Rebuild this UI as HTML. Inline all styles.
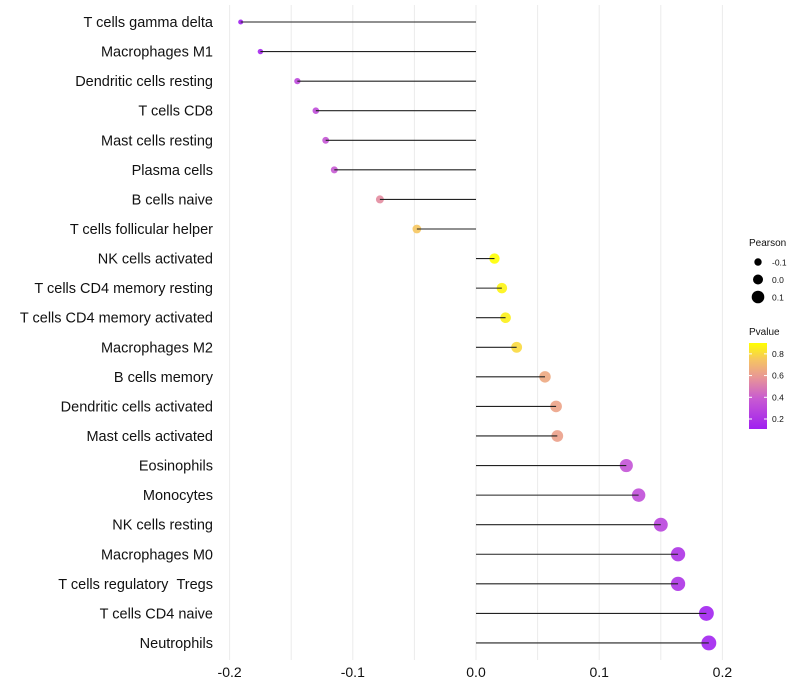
<!DOCTYPE html>
<html><head><meta charset="utf-8"><style>
body{margin:0;background:#fff;}
svg{display:block;font-family:"Liberation Sans",Arial,sans-serif;}
</style></head><body>
<svg id="chart" width="800" height="700">
<g id="grid"></g>
<g id="marks"></g>
<g id="ylabels"></g>
<g id="xlabels"></g>
<g id="legend"></g>
</svg>
<script>
const categories=["T cells gamma delta","Macrophages M1","Dendritic cells resting","T cells CD8","Mast cells resting","Plasma cells","B cells naive","T cells follicular helper","NK cells activated","T cells CD4 memory resting","T cells CD4 memory activated","Macrophages M2","B cells memory","Dendritic cells activated","Mast cells activated","Eosinophils","Monocytes","NK cells resting","Macrophages M0","T cells regulatory \u00A0Tregs","T cells CD4 naive","Neutrophils"];
const pearson=[-0.191,-0.175,-0.145,-0.130,-0.122,-0.115,-0.078,-0.048,0.015,0.021,0.024,0.033,0.056,0.065,0.066,0.122,0.132,0.150,0.164,0.164,0.187,0.189];
const pvalue=[0.11,0.14,0.30,0.32,0.36,0.38,0.55,0.75,0.90,0.87,0.86,0.80,0.65,0.63,0.62,0.35,0.33,0.28,0.20,0.20,0.12,0.12];
const xTicks=[-0.2,-0.1,0,0.1,0.2];
const xTickLabels=["-0.2","-0.1","0.0","0.1","0.2"];
const sizeLegend=[-0.1,0,0.1];
const colorLegend=[0.2,0.4,0.6,0.8];

const NS="http://www.w3.org/2000/svg";
const X=v=>476+v*1232;
const Y=i=>22+i*29.57;
const R=v=>Math.max(1.8,5+13*v);
const stops=[[0,[160,32,240]],[0.35,[200,90,210]],[0.6,[232,150,150]],[0.8,[245,195,100]],[1,[255,255,0]]];
function col(p){let t=(p-0.108)/(0.9-0.108);t=Math.max(0,Math.min(1,t));
for(let k=1;k<stops.length;k++){if(t<=stops[k][0]){const a=stops[k-1],b=stops[k];const f=(t-a[0])/(b[0]-a[0]);
return "rgb("+a[1].map((c,j)=>Math.round(c+(b[1][j]-c)*f)).join(",")+")";}}return "rgb(255,255,0)";}
function el(tag,attrs,parent){const e=document.createElementNS(NS,tag);for(const k in attrs)e.setAttribute(k,attrs[k]);parent.appendChild(e);return e;}
const grid=document.getElementById('grid'),marks=document.getElementById('marks'),yl=document.getElementById('ylabels'),xl=document.getElementById('xlabels'),lg=document.getElementById('legend');
[-0.2,-0.15,-0.1,-0.05,0,0.05,0.1,0.15,0.2].forEach(v=>{const l=el('line',{x1:X(v),x2:X(v),y1:5,y2:660,stroke:'#ebebeb','stroke-width':1},grid);

});
categories.forEach((c,i)=>{
const y=Y(i);
const pt=el('circle',{cx:X(pearson[i]),cy:y,r:R(pearson[i]),fill:col(pvalue[i]),'fill-opacity':0.9},marks);


const s=el('line',{x1:X(0),x2:X(pearson[i]),y1:y,y2:y,stroke:'#222','stroke-width':1.1},marks);


const t=el('text',{x:213,y:y+5,'text-anchor':'end','font-size':14.5,fill:'#111'},yl);t.textContent=c;


});
xTicks.forEach((v,i)=>{const t=el('text',{x:X(v),y:677,'text-anchor':'middle','font-size':14,fill:'#111'},xl);t.textContent=xTickLabels[i];

});
let t=el('text',{x:749,y:246,'font-size':10,fill:'#111'},lg);t.textContent='Pearson';


sizeLegend.forEach((v,i)=>{const y=262+i*17.5;const c=el('circle',{cx:758,cy:y,r:R(v),fill:'#000'},lg);


const tt=el('text',{x:772,y:y+3.5,'font-size':8.5,fill:'#111'},lg);tt.textContent=v===0?'0.0':String(v);

});
t=el('text',{x:749,y:335,'font-size':10,fill:'#111'},lg);t.textContent='Pvalue';


const defs=el('defs',{},lg);const g=el('linearGradient',{id:'pg',x1:0,y1:1,x2:0,y2:0},defs);
for(let k=0;k<=20;k++){const p=0.108+k/20*(0.9-0.108);el('stop',{offset:(k/20),'stop-color':col(p)},g);}
const bar=el('rect',{x:749,y:343,width:18,height:86,fill:'url(#pg)'},lg);


colorLegend.forEach(v=>{const y=429-(v-0.108)/(0.9-0.108)*86;
el('line',{x1:749,x2:752,y1:y,y2:y,stroke:'#fff'},lg);el('line',{x1:764,x2:767,y1:y,y2:y,stroke:'#fff'},lg);
const tt=el('text',{x:772,y:y+3,'font-size':8.5,fill:'#111'},lg);tt.textContent=v.toFixed(1);

});
</script>
</body></html>
